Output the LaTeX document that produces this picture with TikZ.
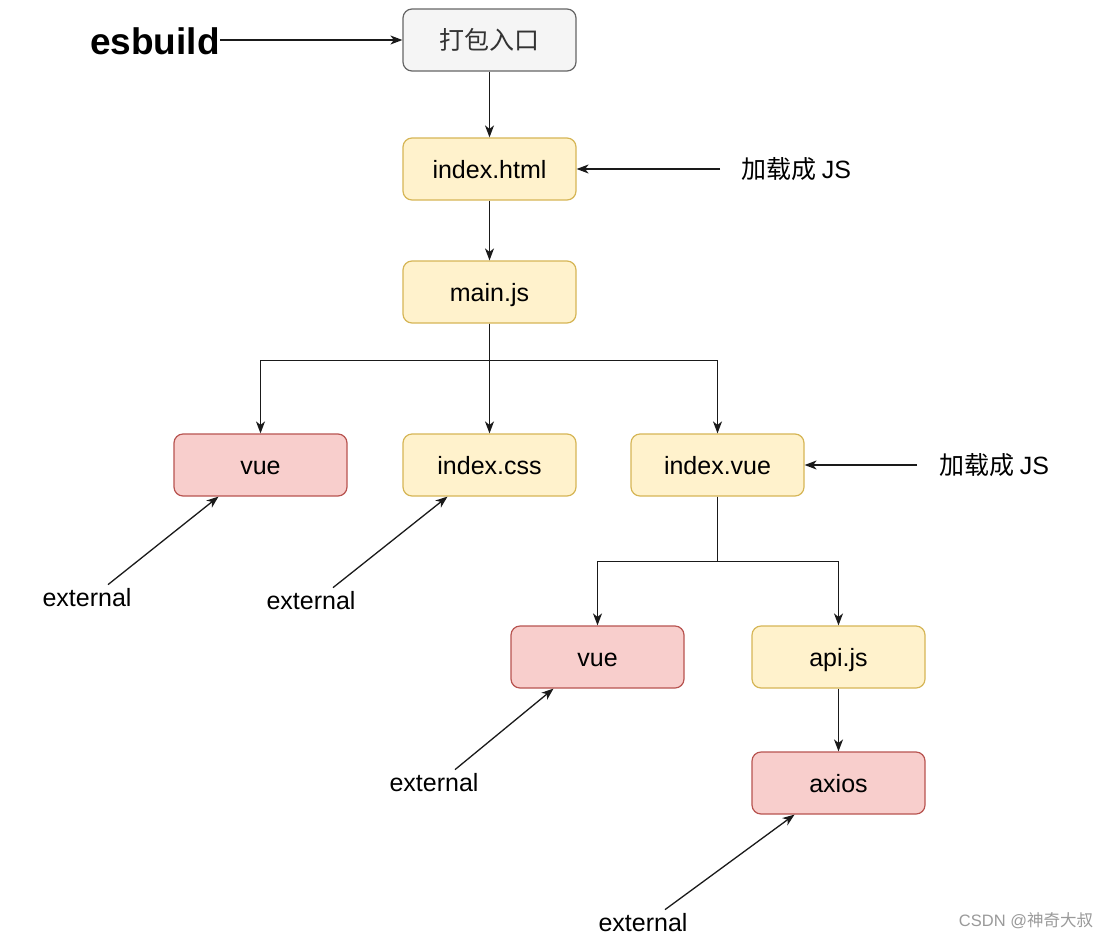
\documentclass[tikz,border=0pt]{standalone}
\usepackage{fontspec}
\setmainfont{Liberation Sans}
\newfontfamily\cjk{Noto Sans CJK SC}
\usetikzlibrary{arrows.meta,calc}
\definecolor{yfill}{HTML}{FFF2CC}
\definecolor{ydraw}{HTML}{D6B656}
\definecolor{rfill}{HTML}{F8CECC}
\definecolor{rdraw}{HTML}{B85450}
\definecolor{gfill}{HTML}{F5F5F5}
\definecolor{gdraw}{HTML}{666666}
\definecolor{gtext}{HTML}{333333}
\definecolor{linec}{HTML}{1A1A1A}
\definecolor{wm}{HTML}{9A9A9A}
\begin{document}
\begin{tikzpicture}[x=1pt,y=-1pt,
  box/.style={draw, rounded corners=9pt, line width=1.2pt, minimum width=173pt, minimum height=62pt, font=\fontsize{25}{30}\selectfont, inner sep=0pt, text height=18pt, text depth=0pt},
  ybox/.style={box, fill=yfill, draw=ydraw},
  rbox/.style={box, fill=rfill, draw=rdraw},
  gbox/.style={box, fill=gfill, draw=gdraw, text=gtext},
  lab/.style={font=\fontsize{25}{30}\selectfont, inner sep=0pt},
  arr/.style={draw=linec, line width=1.3pt, -{Stealth[length=12pt,width=9pt,inset=3.5pt]}}
]
\useasboundingbox (0,0) rectangle (1110,940);
\fill[white] (0,0) rectangle (1110,940);

% boxes
\node[gbox] (entry) at (489.5,40) {\cjk 打包入口};
\node[ybox] (html) at (489.5,169) {index.html};
\node[ybox] (main) at (489.5,292) {main.js};
\node[rbox] (vueA) at (260.5,465) {vue};
\node[ybox] (css) at (489.5,465) {index.css};
\node[ybox] (ivue) at (717.5,465) {index.vue};
\node[rbox] (vueB) at (597.5,657) {vue};
\node[ybox] (api) at (838.5,657) {api.js};
\node[rbox] (axios) at (838.5,783) {axios};

% labels
\node[inner sep=0pt, font=\fontsize{37}{40}\selectfont\bfseries] (esb) at (155,41) {esbuild};
\node[lab, anchor=west] (load1) at (741,169) {\cjk 加载成\ \normalfont JS};
\node[lab, anchor=west] (load2) at (939,465) {\cjk 加载成\ \normalfont JS};
\node[lab] (ext1) at (87,598) {external};
\node[lab] (ext2) at (311,601) {external};
\node[lab] (ext3) at (434,783) {external};
\node[lab] (ext4) at (643,923) {external};
\node[inner sep=0pt, text=wm, font=\fontsize{16.5}{20}\selectfont] (wmk) at (1026,921) {CSDN @{\cjk 神奇大叔}};

% connectors
\draw[arr] (esb.east |- entry.west) -- (entry.west);
\draw[arr] (entry.south) -- (html.north);
\draw[arr] (html.south) -- (main.north);
\draw[arr] ([xshift=-21pt]load1.west) -- (html.east);
\draw[arr] ([xshift=-22pt]load2.west) -- (ivue.east);
\draw[arr] (main.south) -- ++(0,37) -| (vueA.north);
\draw[arr] (main.south) -- (css.north);
\draw[arr] (main.south) -- ++(0,37) -| (ivue.north);
\draw[arr] (ivue.south) -- ++(0,65) -| (vueB.north);
\draw[arr] (ivue.south) -- ++(0,65) -| (api.north);
\draw[arr] (api.south) -- (axios.north);

% external arrows
\draw[arr] ([xshift=21pt,yshift=4pt]ext1.north) -- ([xshift=-42pt]vueA.south);
\draw[arr] ([xshift=22pt,yshift=4pt]ext2.north) -- ([xshift=-42pt]css.south);
\draw[arr] ([xshift=21pt,yshift=4pt]ext3.north) -- ([xshift=-44pt]vueB.south);
\draw[arr] ([xshift=22pt,yshift=4pt]ext4.north) -- ([xshift=-44pt]axios.south);
\end{tikzpicture}
\end{document}
